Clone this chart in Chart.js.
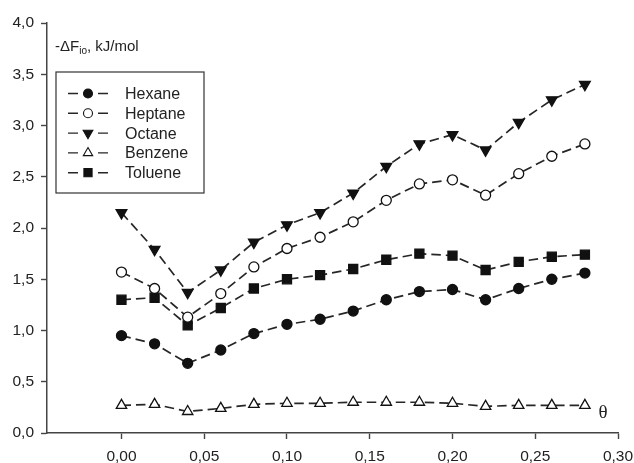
<!DOCTYPE html>
<html>
<head>
<meta charset="utf-8">
<script src="https://cdn.jsdelivr.net/npm/chart.js"></script>
<style>
  html, body { margin: 0; padding: 0; background: #fff; }
  #wrap { width: 634px; height: 463px; }
</style>
</head>
<body>
<div id="wrap"><canvas id="chart" width="634" height="463"></canvas></div>
<script>
// surface coverage θ
const THETA = [0, 0.02, 0.04, 0.06, 0.08, 0.10, 0.12, 0.14, 0.16, 0.18, 0.20, 0.22, 0.24, 0.26, 0.28];

// -ΔF (kJ/mol) per adsorbate
const HEXANE  = [0.95, 0.87, 0.68, 0.81, 0.97, 1.06, 1.11, 1.19, 1.30, 1.38, 1.40, 1.30, 1.41, 1.50, 1.56];
const HEPTANE = [1.57, 1.41, 1.13, 1.36, 1.62, 1.80, 1.91, 2.06, 2.27, 2.43, 2.47, 2.32, 2.53, 2.70, 2.82];
const OCTANE  = [2.15, 1.79, 1.37, 1.59, 1.86, 2.03, 2.15, 2.34, 2.60, 2.82, 2.91, 2.76, 3.03, 3.25, 3.40];
const BENZENE = [0.27, 0.28, 0.21, 0.24, 0.28, 0.29, 0.29, 0.30, 0.30, 0.30, 0.29, 0.26, 0.27, 0.27, 0.27];
const TOLUENE = [1.30, 1.32, 1.05, 1.22, 1.41, 1.50, 1.54, 1.60, 1.69, 1.75, 1.73, 1.59, 1.67, 1.72, 1.74];

const SERIES_NAMES = ["Hexane", "Heptane", "Octane", "Benzene", "Toluene"];
const SERIES_VALUES = [HEXANE, HEPTANE, OCTANE, BENZENE, TOLUENE];

const X_TICKS = [0, 0.05, 0.10, 0.15, 0.20, 0.25, 0.30];
const Y_TICKS = [0, 0.5, 1.0, 1.5, 2.0, 2.5, 3.0, 3.5, 4.0];

const LINE = "#262626";
const INK = "#111";
const FONT = "'Liberation Sans', Arial, sans-serif";

const MARKERS = [
  { style: "circle",   radius: 5.0, rotation: 0,   fill: INK },
  { style: "circle",   radius: 5.0, rotation: 0,   fill: "#fff" },
  { style: "triangle", radius: 6.2, rotation: 180, fill: INK },
  { style: "triangle", radius: 6.0, rotation: 0,   fill: "#fff" },
  { style: "rect",     radius: 6.4, rotation: 0,   fill: INK }
];

const comma = (v, d) => v.toFixed(d).replace(".", ",");

const datasets = SERIES_NAMES.map((name, i) => ({
  label: name,
  data: THETA.map((x, j) => ({ x, y: SERIES_VALUES[i][j] })),
  borderColor: LINE,
  borderWidth: 1.7,
  borderDash: [9.5, 5],
  tension: 0,
  pointStyle: MARKERS[i].style,
  pointRadius: MARKERS[i].radius,
  pointRotation: MARKERS[i].rotation,
  pointBackgroundColor: MARKERS[i].fill,
  pointBorderColor: INK,
  pointBorderWidth: 1.3
}));

// small marker painter for the legend samples
function drawMarker(ctx, m, x, y, r) {
  ctx.beginPath();
  if (m.style === "circle") {
    ctx.arc(x, y, r, 0, Math.PI * 2);
  } else if (m.style === "rect") {
    const s = Math.SQRT1_2 * r;
    ctx.rect(x - s, y - s, 2 * s, 2 * s);
  } else {
    let a = m.rotation * Math.PI / 180;
    for (let k = 0; k < 3; k++) {
      const px = x + Math.sin(a) * r, py = y - Math.cos(a) * r;
      k ? ctx.lineTo(px, py) : ctx.moveTo(px, py);
      a += 2 * Math.PI / 3;
    }
    ctx.closePath();
  }
  ctx.fillStyle = m.fill;
  ctx.fill();
  ctx.lineWidth = 1.1;
  ctx.strokeStyle = INK;
  ctx.stroke();
}

const annotations = {
  id: "annotations",
  afterDraw(chart) {
    const { ctx, chartArea } = chart;
    ctx.save();

    // legend box
    const x0 = chartArea.left + 9, y0 = chartArea.top + 49;
    ctx.setLineDash([]);
    ctx.lineWidth = 1.2;
    ctx.strokeStyle = "#333";
    ctx.strokeRect(x0, y0, 148, 121);
    ctx.font = "16px " + FONT;
    ctx.textBaseline = "middle";
    ctx.textAlign = "left";
    SERIES_NAMES.forEach((name, i) => {
      const cy = y0 + 21.5 + i * 19.8;
      ctx.strokeStyle = LINE;
      ctx.lineWidth = 1.4;
      ctx.beginPath();
      ctx.moveTo(x0 + 12, cy); ctx.lineTo(x0 + 22, cy);
      ctx.moveTo(x0 + 42, cy); ctx.lineTo(x0 + 52, cy);
      ctx.stroke();
      drawMarker(ctx, MARKERS[i], x0 + 32, cy, MARKERS[i].radius * 0.9);
      ctx.fillStyle = "#222";
      ctx.fillText(name, x0 + 69, cy + 1);
    });

    // y axis title with subscript
    ctx.fillStyle = "#222";
    ctx.textBaseline = "alphabetic";
    let tx = chartArea.left + 8;
    const ty = chartArea.top + 27.5;
    ctx.font = "15px " + FONT;
    ctx.fillText("-ΔF", tx, ty);
    tx += ctx.measureText("-ΔF").width;
    ctx.font = "10px " + FONT;
    ctx.fillText("io", tx, ty + 3);
    tx += ctx.measureText("io").width;
    ctx.font = "15px " + FONT;
    ctx.fillText(", kJ/mol", tx, ty);

    // x axis symbol
    ctx.font = "19px 'Liberation Serif', 'Times New Roman', serif";
    ctx.textAlign = "center";
    ctx.textBaseline = "middle";
    ctx.fillText("θ", chartArea.right - 15, chartArea.bottom - 20);
    ctx.restore();
  }
};

const axisStyle = {
  display: true,
  drawOnChartArea: false,
  drawTicks: true,
  tickLength: 6,
  tickWidth: 1.4,
  color: "#444"
};

new Chart(document.getElementById("chart"), {
  type: "line",
  data: { datasets },
  options: {
    responsive: false,
    animation: false,
    layout: { padding: { left: 0, top: 23, right: 16, bottom: 0 } },
    plugins: { legend: { display: false }, tooltip: { enabled: false } },
    scales: {
      x: {
        type: "linear",
        min: -0.045,
        max: 0.30,
        grid: axisStyle,
        border: { display: true, color: "#444", width: 1.5 },
        afterBuildTicks: scale => { scale.ticks = X_TICKS.map(value => ({ value })); },
        afterFit: scale => {
          scale.height = 30;
          scale.paddingLeft = 0;
          scale.paddingRight = 0;
        },
        ticks: {
          padding: 8,
          color: "#222",
          font: { family: FONT, size: 15.5 },
          maxRotation: 0,
          callback: v => comma(v, 2)
        }
      },
      y: {
        type: "linear",
        min: 0,
        max: 4,
        grid: axisStyle,
        border: { display: true, color: "#444", width: 1.5 },
        afterBuildTicks: scale => { scale.ticks = Y_TICKS.map(value => ({ value })); },
        afterFit: scale => {
          scale.width = 47;
          scale.paddingTop = 0;
          scale.paddingBottom = 0;
        },
        ticks: {
          padding: 7,
          color: "#222",
          font: { family: FONT, size: 15.5 },
          callback: v => comma(v, 1)
        }
      }
    }
  },
  plugins: [annotations]
});
</script>
</body>
</html>
